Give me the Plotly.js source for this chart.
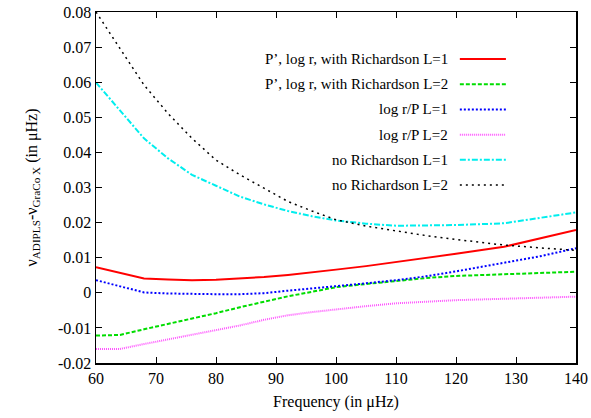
<!DOCTYPE html>
<html>
<head>
<meta charset="utf-8">
<script src="https://cdn.plot.ly/plotly-3.0.1.min.js"></script>
<style>html,body{margin:0;padding:0;background:#fff;}#chart{width:591px;height:418px;}</style>
</head>
<body>
<div id="chart"></div>
<script>
// Data
const freq = [60, 64, 68, 72, 76, 80, 84, 88, 92, 96, 100, 105, 110, 115, 120, 128, 134, 140];
const pLogR_L1 = [0.0073, 0.0057, 0.0041, 0.0038, 0.0036, 0.0037, 0.0040, 0.0045, 0.0051, 0.0058, 0.0066, 0.0076, 0.0087, 0.0099, 0.0111, 0.0131, 0.0155, 0.0179];
const pLogR_L2 = [-0.0122, -0.0120, -0.0104, -0.0089, -0.0073, -0.0058, -0.0041, -0.0025, -0.0010, 0.0003, 0.0016, 0.0025, 0.0034, 0.0042, 0.0048, 0.0053, 0.0057, 0.0060];
const logRP_L1 = [0.0036, 0.0019, 0.0001, -0.0002, -0.0004, -0.0004, -0.0004, -0.0001, 0.0006, 0.0012, 0.0019, 0.0027, 0.0036, 0.0047, 0.0061, 0.0085, 0.0104, 0.0127];
const logRP_L2 = [-0.0160, -0.0160, -0.0146, -0.0133, -0.0120, -0.0106, -0.0093, -0.0077, -0.0064, -0.0055, -0.0047, -0.0038, -0.0030, -0.0025, -0.0021, -0.0017, -0.0014, -0.0011];
const noRich_L1 = [0.0599, 0.0521, 0.0440, 0.0383, 0.0336, 0.0305, 0.0274, 0.0252, 0.0233, 0.0218, 0.0206, 0.0197, 0.0191, 0.0192, 0.0193, 0.0198, 0.0213, 0.0229];
const noRich_L2 = [0.0800, 0.0697, 0.0592, 0.0511, 0.0440, 0.0378, 0.0336, 0.0298, 0.0260, 0.0233, 0.0208, 0.0190, 0.0176, 0.0163, 0.0152, 0.0136, 0.0128, 0.0121];

const names = ["P’, log r, with Richardson L=1", "P’, log r, with Richardson L=2", "log r/P L=1", "log r/P L=2", "no Richardson L=1", "no Richardson L=2"];
const series = [pLogR_L1, pLogR_L2, logRP_L1, logRP_L2, noRich_L1, noRich_L2];
const colors = ["#ff0000", "#00dd00", "#0000ff", "#ff55ff", "#00eeee", "#000000"];
const dashes = ["solid", "4px,2px", "2px,2px", "1px,1px", "6px,2px,2px,2px", "2px,4px"];
const widths = [2, 2, 2, 2, 2, 1.5];

const yTicks = [-0.02, -0.01, 0, 0.01, 0.02, 0.03, 0.04, 0.05, 0.06, 0.07, 0.08];
const yTickText = ["-0.02", "-0.01", "0", "0.01", "0.02", "0.03", "0.04", "0.05", "0.06", "0.07", "0.08"];
const xTicks = [60, 70, 80, 90, 100, 110, 120, 130, 140];

const traces = series.map((s, i) => ({
  x: freq, y: s, type: "scatter", mode: "lines", name: names[i],
  line: {color: colors[i], dash: dashes[i], width: widths[i]}, showlegend: false
}));

const FAM = "Liberation Serif";
const mk = (sz) => ({family: FAM, size: sz, color: "#000000"});

// gnuplot-style legend: text right-aligned, sample line to the right
const annotations = [];
const shapes = [];
const top0 = 0.866, step = 0.0718;
names.forEach((n, i) => {
  const yy = top0 - i * step;
  annotations.push({xref: "paper", yref: "paper", x: 0.7375, y: yy, xanchor: "right", yanchor: "middle",
    text: n, showarrow: false, font: mk(15)});
  shapes.push({type: "line", xref: "paper", yref: "paper", x0: 0.758, x1: 0.854, y0: yy, y1: yy,
    line: {color: colors[i], dash: dashes[i], width: widths[i]}});
});

const layout = {
  width: 591, height: 418,
  margin: {l: 96, r: 15, t: 12, b: 55},
  paper_bgcolor: "#fff", plot_bgcolor: "#fff",
  font: mk(16),
  xaxis: {range: [60, 140], tickvals: xTicks, ticks: "inside", ticklen: 6, tickcolor: "#000",
    showline: true, linecolor: "#000", linewidth: 1.5, mirror: "ticks", showgrid: false, zeroline: false,
    title: {text: "Frequency (in μHz)", font: mk(16), standoff: 10}, tickfont: mk(16)},
  yaxis: {range: [-0.02, 0.08], tickvals: yTicks, ticktext: yTickText, ticks: "inside", ticklen: 6, tickcolor: "#000",
    showline: true, linecolor: "#000", linewidth: 1.5, mirror: "ticks", showgrid: false, zeroline: false,
    title: {text: "ν<sub>ADIPLS</sub>-ν<sub>GraCo X</sub> (in μHz)", font: mk(16), standoff: 16}, tickfont: mk(16)},
  annotations: annotations,
  shapes: shapes
};
Plotly.newPlot("chart", traces, layout, {displayModeBar: false, staticPlot: true});
</script>
</body>
</html>
